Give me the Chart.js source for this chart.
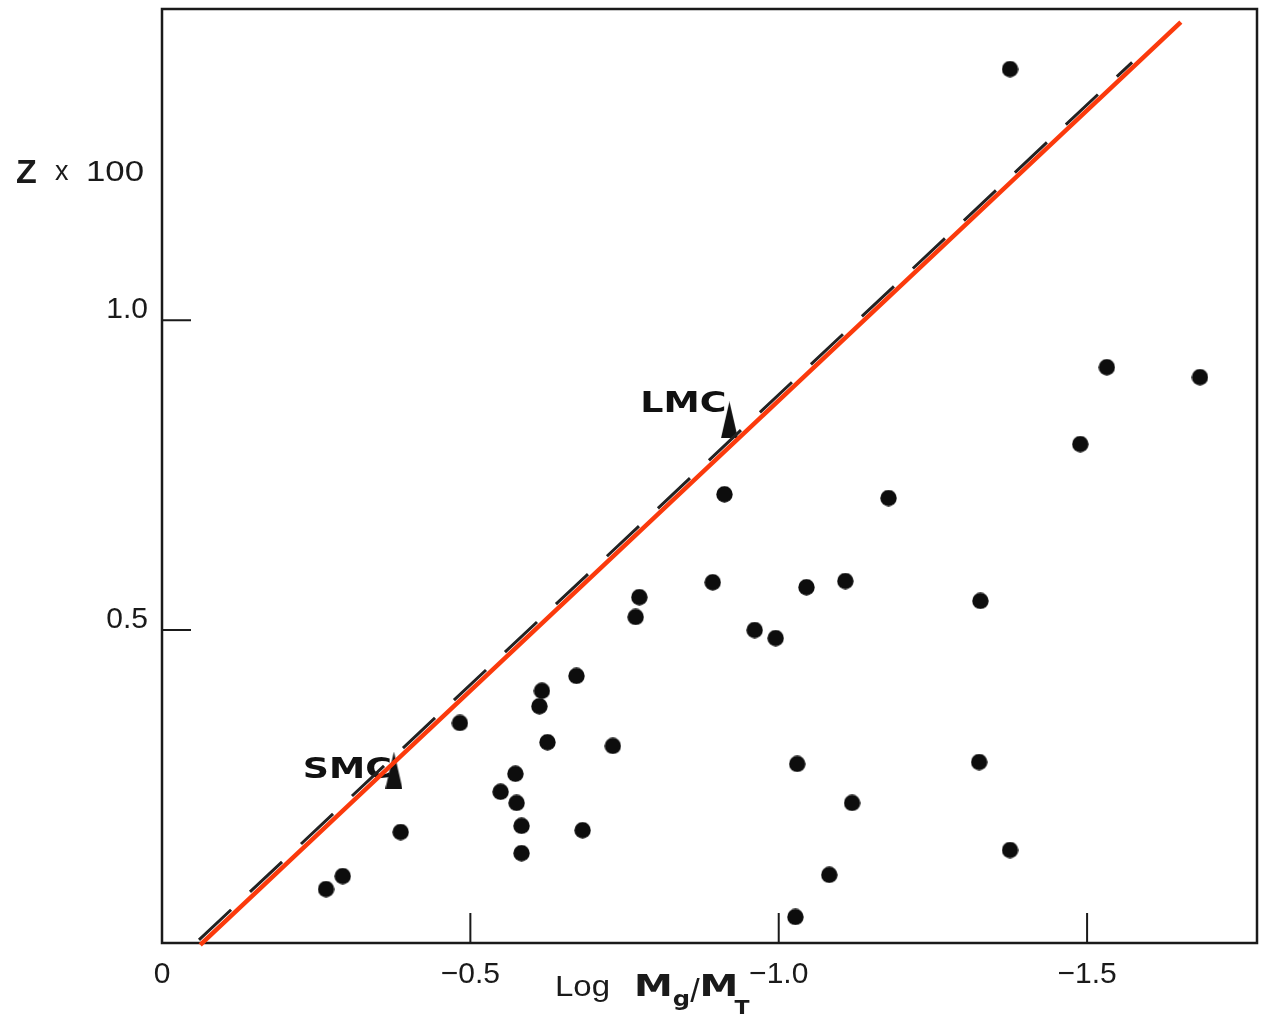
<!DOCTYPE html>
<html>
<head>
<meta charset="utf-8">
<script src="https://cdn.jsdelivr.net/npm/chart.js@4.4.1/dist/chart.umd.min.js"></script>
<style>
  html, body { margin: 0; padding: 0; background: #fff; }
  canvas { display: block; }
</style>
</head>
<body>
<canvas id="zChart" width="1261" height="1019"></canvas>
<script>
// galaxies: log Mg/MT and metallicity Z x 100
var galaxyLogMass = [-1.375, -1.532, -1.683, -1.489, -0.912, -1.178, -0.893, -1.045, -1.108,
  -0.774, -0.768, -1.327, -0.961, -0.995, -0.672, -0.616, -0.612, -0.483, -0.625, -0.731,
  -1.030, -1.325, -0.573, -0.549, -0.575, -1.119, -0.387, -0.583, -0.682, -0.583, -1.375,
  -0.293, -0.266, -1.082, -1.027];
var galaxyZ = [1.405, 0.924, 0.908, 0.800, 0.719, 0.713, 0.577, 0.569, 0.579,
  0.553, 0.521, 0.547, 0.500, 0.487, 0.426, 0.402, 0.377, 0.350, 0.319, 0.313,
  0.284, 0.287, 0.268, 0.239, 0.221, 0.221, 0.174, 0.184, 0.177, 0.140, 0.145,
  0.103, 0.082, 0.105, 0.037];

// Magellanic clouds
var cloudNames = ['SMC', 'LMC'];
var cloudLogMass = [-0.376, -0.920];
var cloudZ = [0.274, 0.839];

// closed-box model (solid) and the older dashed fit
var modelLogMass = [-0.062, -1.652];
var modelZ = [-0.008, 1.481];
var dashedLogMass = [-0.060, -1.573];
var dashedZ = [0.0, 1.416];

var xTicks = [0, -0.5, -1.0, -1.5];
var xTickLabels = ['0', '\u22120.5', '\u22121.0', '\u22121.5'];
var yTicks = [0.5, 1.0];
var yTickLabels = ['0.5', '1.0'];

function toPoints(xs, ys) {
  return xs.map(function (x, i) { return { x: x, y: ys[i] }; });
}

// marker sprites; drawn as images so they don't widen the layout padding
function makeTriangle(w, h) {
  var c = document.createElement('canvas');
  c.width = w;
  c.height = h;
  var g = c.getContext('2d');
  g.fillStyle = '#111';
  g.beginPath();
  g.moveTo(w / 2, 0);
  g.lineTo(w, h);
  g.lineTo(0, h);
  g.closePath();
  g.fill();
  return c;
}

function makeDot(d) {
  var c = document.createElement('canvas');
  c.width = d;
  c.height = d;
  var g = c.getContext('2d');
  g.fillStyle = '#0d0d0d';
  g.beginPath();
  g.arc(d / 2, d / 2, d / 2 - 0.3, 0, Math.PI * 2);
  g.fill();
  return c;
}

// text drawn a bit wider than the font, like the old typeset figure
function wideText(ctx, text, x, y, font, sx, align) {
  ctx.save();
  ctx.font = font;
  var w = ctx.measureText(text).width * sx;
  var left = align === 'right' ? x - w : x;
  ctx.translate(left, y);
  ctx.scale(sx, 1);
  ctx.textAlign = 'left';
  ctx.textBaseline = 'alphabetic';
  ctx.fillText(text, 0, 0);
  ctx.restore();
  return left + w;
}

var INK = '#1a1a1a';

var framePlugin = {
  id: 'frameAndMarks',
  beforeDatasetsDraw: function (chart) {
    var ctx = chart.ctx, a = chart.chartArea;
    var xs = chart.scales.x, ys = chart.scales.y;
    ctx.save();
    ctx.strokeStyle = INK;
    ctx.lineWidth = 2.5;
    ctx.strokeRect(a.left, a.top, a.right - a.left, a.bottom - a.top);

    // tick marks point inward
    ctx.lineWidth = 2;
    ctx.beginPath();
    xTicks.forEach(function (v) {
      if (v === 0) return;
      var px = xs.getPixelForValue(v);
      ctx.moveTo(px, a.bottom);
      ctx.lineTo(px, a.bottom - 30);
    });
    yTicks.forEach(function (v) {
      var py = ys.getPixelForValue(v);
      ctx.moveTo(a.left, py);
      ctx.lineTo(a.left + 29, py);
    });
    ctx.stroke();

    // cloud names beside their triangles
    var meta = chart.getDatasetMeta(3);
    ctx.fillStyle = '#111';
    var offsets = [{ dx: -2, dy: 8 }, { dx: -3, dy: -8 }];
    cloudNames.forEach(function (name, i) {
      var p = meta.data[i];
      wideText(ctx, name, p.x + offsets[i].dx, p.y + offsets[i].dy,
        'bold 28px "DejaVu Sans"', 1.3, 'right');
    });
    ctx.restore();
  },
  afterDraw: function (chart) {
    var ctx = chart.ctx;
    ctx.save();
    ctx.fillStyle = INK;
    // vertical axis title
    wideText(ctx, 'Z', 16, 183, 'bold 34px "Liberation Sans"', 1.0);
    wideText(ctx, 'x', 55, 180, '27px "Liberation Sans"', 1.0);
    wideText(ctx, '100', 86, 181, '29px "Liberation Sans"', 1.2);
    // horizontal axis title
    wideText(ctx, 'Log', 555, 996, '30px "Liberation Sans"', 1.1);
    var x = wideText(ctx, 'M', 634, 996, 'bold 30px "DejaVu Sans"', 1.3);
    x = wideText(ctx, 'g', x, 1006, 'bold 22px "DejaVu Sans"', 1.1);
    x = wideText(ctx, '/', x, 1002, '34px "Liberation Sans"', 1.0);
    x = wideText(ctx, 'M', x, 996, 'bold 30px "DejaVu Sans"', 1.3);
    wideText(ctx, 'T', x - 4, 1014, 'bold 20px "DejaVu Sans"', 1.1);
    ctx.restore();
  }
};

var ctx = document.getElementById('zChart').getContext('2d');
var zChart = new Chart(ctx, {
  type: 'scatter',
  data: {
    datasets: [
      {
        label: 'model',
        type: 'line',
        data: toPoints(modelLogMass, modelZ),
        borderColor: '#fb3a0c',
        borderWidth: 4.5,
        pointRadius: 0,
        fill: false,
        clip: false
      },
      {
        label: 'fit',
        type: 'line',
        data: toPoints(dashedLogMass, dashedZ),
        borderColor: '#222',
        borderWidth: 3,
        borderDash: [44, 26],
        pointRadius: 0,
        fill: false
      },
      {
        label: 'galaxies',
        data: toPoints(galaxyLogMass, galaxyZ),
        pointStyle: makeDot(17),
        pointRadius: 1,
        borderWidth: 0
      },
      {
        label: 'clouds',
        data: toPoints(cloudLogMass, cloudZ),
        pointStyle: makeTriangle(17, 37),
        pointRadius: 1,
        borderWidth: 0
      }
    ]
  },
  options: {
    responsive: false,
    animation: false,
    devicePixelRatio: 1,
    events: [],
    layout: { padding: { top: 9, right: 3, left: 0, bottom: 0 } },
    scales: {
      x: {
        type: 'linear',
        min: -1.7755,
        max: 0,
        reverse: true,
        grid: { display: false, drawTicks: false },
        border: { display: false },
        afterBuildTicks: function (s) {
          s.ticks = xTicks.map(function (v) { return { value: v }; });
        },
        afterFit: function (s) {
          s.height = 76;
          s.paddingLeft = 0;
          s.paddingRight = 0;
        },
        ticks: {
          padding: 14,
          maxRotation: 0,
          autoSkip: false,
          color: INK,
          font: { family: '"Liberation Sans"', size: 30 },
          callback: function (v) { return xTickLabels[xTicks.indexOf(v)]; }
        }
      },
      y: {
        type: 'linear',
        min: -0.005,
        max: 1.502,
        grid: { display: false, drawTicks: false },
        border: { display: false },
        afterBuildTicks: function (s) {
          s.ticks = yTicks.map(function (v) { return { value: v }; });
        },
        afterFit: function (s) {
          s.width = 162;
          s.paddingTop = 0;
          s.paddingBottom = 0;
        },
        ticks: {
          padding: 14,
          labelOffset: -10,
          color: INK,
          font: { family: '"Liberation Sans"', size: 30 },
          callback: function (v) { return yTickLabels[yTicks.indexOf(v)]; }
        }
      }
    },
    plugins: {
      legend: { display: false },
      tooltip: { enabled: false }
    }
  },
  plugins: [framePlugin]
});
</script>
</body>
</html>
